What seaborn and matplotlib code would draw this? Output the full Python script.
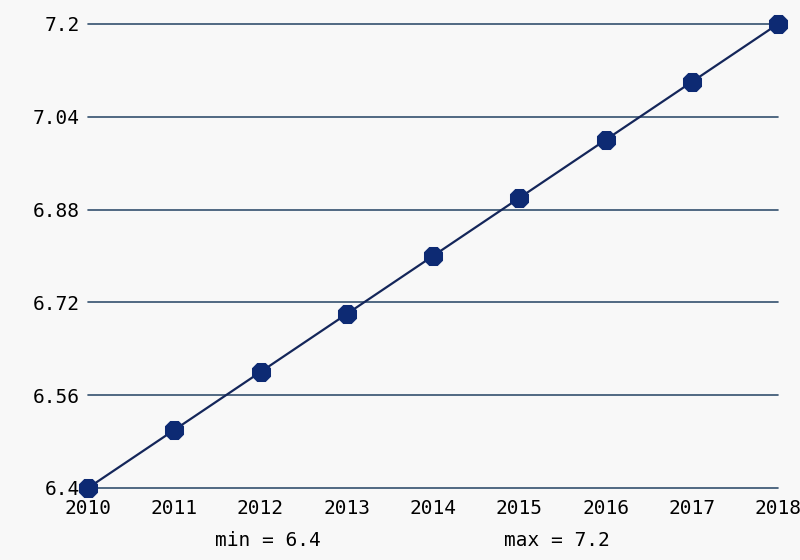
import seaborn as sns
import matplotlib.pyplot as plt
import pandas as pd

years = [2010, 2011, 2012, 2013, 2014, 2015, 2016, 2017, 2018]
values = [6.4, 6.5, 6.6, 6.7, 6.8, 6.9, 7.0, 7.1, 7.2]
y_ticks = [6.4, 6.56, 6.72, 6.88, 7.04, 7.2]
y_labels = ["6.4", "6.56", "6.72", "6.88", "7.04", "7.2"]

sns.set_style("white")
plt.rcParams['font.family'] = ['DejaVu Sans Mono', 'DejaVu Sans']
plt.rcParams['text.color'] = 'black'
plt.rcParams['xtick.labelcolor'] = 'black'
plt.rcParams['ytick.labelcolor'] = 'black'

df = pd.DataFrame({"year": years, "value": values})

fig = plt.figure(figsize=(8, 5.6), dpi=100, facecolor="#f8f8f8")
ax = fig.add_axes([0.11, 0.1286, 0.8625, 0.8286])
ax.set_facecolor("#f8f8f8")

grid_color = "#34506e"
for yt in y_ticks:
    ax.axhline(yt, color=grid_color, lw=1.2, zorder=1, clip_on=False)

sns.lineplot(data=df, x="year", y="value", ax=ax, color="#14265a", lw=1.6,
             marker="8", markersize=14, markerfacecolor="#0d2a73",
             markeredgecolor="#0d2a73", zorder=3, clip_on=False)

ax.set_xlim(2010, 2018)
ax.set_ylim(6.4, 7.2)
ax.set_xticks(years)
ax.set_xticklabels([str(y) for y in years], fontsize=14)
ax.set_yticks(y_ticks)
ax.set_yticklabels(y_labels, fontsize=14)
ax.tick_params(axis="x", length=5, width=1.2, color=grid_color, direction="out", pad=3)
ax.tick_params(axis="y", length=0, pad=6)
for s in ax.spines.values():
    s.set_visible(False)
ax.set_xlabel("")
ax.set_ylabel("")

fig.text(0.335, 0.035, "min = 6.4", fontsize=14, ha="center", va="center")
fig.text(0.696, 0.035, "max = 7.2", fontsize=14, ha="center", va="center")

fig.savefig("out.png", dpi=100, facecolor=fig.get_facecolor())
